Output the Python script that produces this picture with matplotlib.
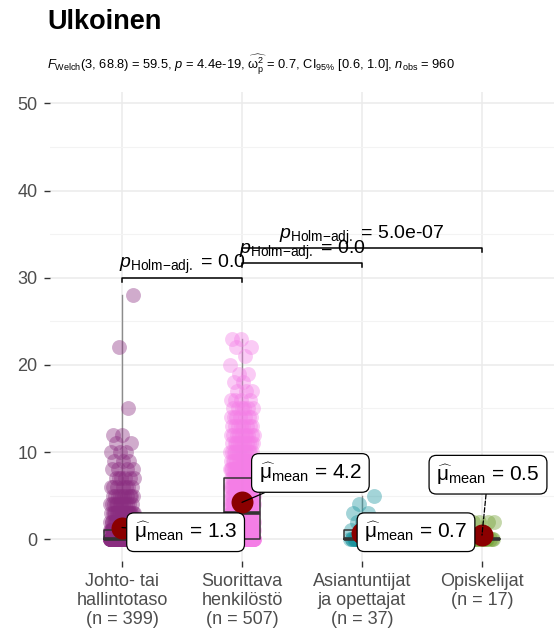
import numpy as np
import matplotlib
matplotlib.use("Agg")
import matplotlib.pyplot as plt

plt.rcParams["font.family"] = ["Liberation Sans", "DejaVu Sans"]
plt.rcParams["mathtext.fontset"] = "custom"
plt.rcParams["mathtext.rm"] = "Liberation Sans"
plt.rcParams["mathtext.it"] = "Liberation Sans:italic"
plt.rcParams["mathtext.bf"] = "Liberation Sans:bold"

# ---------------- data ----------------
categories = ["Johto- tai\nhallintotaso", "Suorittava\nhenkilöstö",
              "Asiantuntijat\nja opettajat", "Opiskelijat"]
n_obs = [399, 507, 37, 17]

g1_values = [0, 1, 2, 3, 4, 5, 6, 7, 8, 9, 10, 11, 12, 15, 22, 28]
g1_counts = [252, 55, 22, 18, 12, 10, 7, 6, 4, 3, 3, 2, 2, 1, 1, 1]

g2_values = [0, 1, 2, 3, 4, 5, 6, 7, 8, 9, 10, 11, 12, 13, 14, 15, 16, 17, 18, 19, 20, 21, 22, 23]
g2_counts = [149, 55, 42, 40, 35, 30, 27, 22, 20, 15, 13, 11, 10, 8, 7, 6, 4, 3, 2, 2, 1, 1, 2, 2]

g3_values = [0, 1, 2, 3, 4, 5]
g3_counts = [26, 4, 3, 2, 1, 1]

g4_values = [0, 2]
g4_counts = [13, 4]

colors = ["#8A2D80", "#F47EE6", "#1A949E", "#6E9E2E"]

pair_groups = [(1, 2), (2, 3), (2, 4)]
pair_pvalues = ["0.0", "0.0", "5.0e-07"]

subtitle = (r"$\mathit{F}_{\mathrm{Welch}}$(3, 68.8) = 59.5, $\mathit{p}$ = 4.4e-19, "
            r"$\widehat{\mathrm{\omega}_{\mathrm{p}}^{2}}$ = 0.7, CI$_{95\%}$ [0.6, 1.0], "
            r"$\mathit{n}_{\mathrm{obs}}$ = 960")

# ---------------- figure ----------------
W, H = 558, 641
fig = plt.figure(figsize=(W / 100, H / 100), dpi=100)
ax = fig.add_axes([50 / W, 1 - 561 / H, (554 - 50) / W, (561 - 92) / H])
ax.set_xlim(0.4, 4.6)
ax.set_ylim(-2.5, 51.3)

for s in ax.spines.values():
    s.set_visible(False)
ax.set_yticks([0, 10, 20, 30, 40, 50])
ax.set_yticks([5, 15, 25, 35, 45], minor=True)
ax.set_xticks([1, 2, 3, 4])
ax.set_xticklabels([f"{c}\n(n = {n})" for c, n in zip(categories, n_obs)],
                   linespacing=1.15)
ax.tick_params(axis="both", which="major", length=4, width=1, color="#333333",
               labelcolor="#4D4D4D", labelsize=13, pad=5)
ax.tick_params(axis="y", which="minor", length=0)
ax.grid(True, which="major", color="#EBEBEB", linewidth=1.1)
ax.grid(True, which="minor", axis="y", color="#F3F3F3", linewidth=0.8)
ax.set_axisbelow(True)

groups_v = [g1_values, g2_values, g3_values, g4_values]
groups_c = [g1_counts, g2_counts, g3_counts, g4_counts]
datasets = [np.repeat(v, c).astype(float) for v, c in zip(groups_v, groups_c)]

golden = 0.6180339887
for k, d in enumerate(datasets):
    x0 = k + 1
    # thin violin trace
    ax.plot([x0, x0], [d.min(), d.max()], color="#8C8C8C", lw=1.0, zorder=2)
    idx = np.arange(len(d))
    jit = 0.1 * (2 * ((idx * golden + 0.37 * k) % 1.0) - 1)
    ax.scatter(x0 + jit, d, s=115, color=colors[k], alpha=0.4, linewidths=0, zorder=3)
    # box
    q1, med, q3 = np.percentile(d, [25, 50, 75])
    bw = 0.15
    ax.plot([x0 - bw, x0 + bw, x0 + bw, x0 - bw, x0 - bw], [q1, q1, q3, q3, q1],
            color="#333333", lw=1.1, zorder=4)
    ax.plot([x0 - bw, x0 + bw], [med, med], color="#333333", lw=2.6, zorder=4,
            solid_capstyle="butt")

# mean points + labels
label_pos = [(1.53, 0.8), (2.57, 7.6), (3.45, 0.8), (4.05, 7.4)]
for k, d in enumerate(datasets):
    m = d.mean()
    x0 = k + 1
    lx, ly = label_pos[k]
    ax.scatter([x0], [m], s=250, color="#8B0000", zorder=6, linewidths=0)
    ls = "--" if k == 3 else "-"
    ax.annotate(r"$\widehat{\mathrm{\mu}}_{\mathrm{mean}}$ = " + f"{m:.1f}",
                xy=(x0, m), xytext=(lx, ly), ha="center", va="center",
                fontsize=15, color="black", zorder=8,
                bbox=dict(boxstyle="round,pad=0.35,rounding_size=0.35",
                          fc="white", ec="black", lw=0.9),
                arrowprops=dict(arrowstyle="-", color="black", lw=0.9, ls=ls,
                                shrinkA=0, shrinkB=0))

# pairwise brackets
overall_max = max(d.max() for d in datasets)
y_start = overall_max + 2.0
step = 1.7
tip = 0.45
for i, ((a, b), p) in enumerate(zip(pair_groups, pair_pvalues)):
    y = y_start + i * step
    ax.plot([a, a, b, b], [y - tip, y, y, y - tip], color="black", lw=1.1, zorder=5)
    ax.text((a + b) / 2, y + 0.15, r"$\mathit{p}_{\mathrm{Holm{-}adj.}}$ = " + p,
            ha="center", va="bottom", fontsize=14, zorder=5)

fig.text(47 / W, 1 - 9 / H, "Ulkoinen", fontsize=19.5, fontweight="bold", va="top", ha="left")
fig.text(47 / W, 1 - 65 / H, subtitle, fontsize=9.3, va="center", ha="left")

fig.savefig("out.png", dpi=100)
